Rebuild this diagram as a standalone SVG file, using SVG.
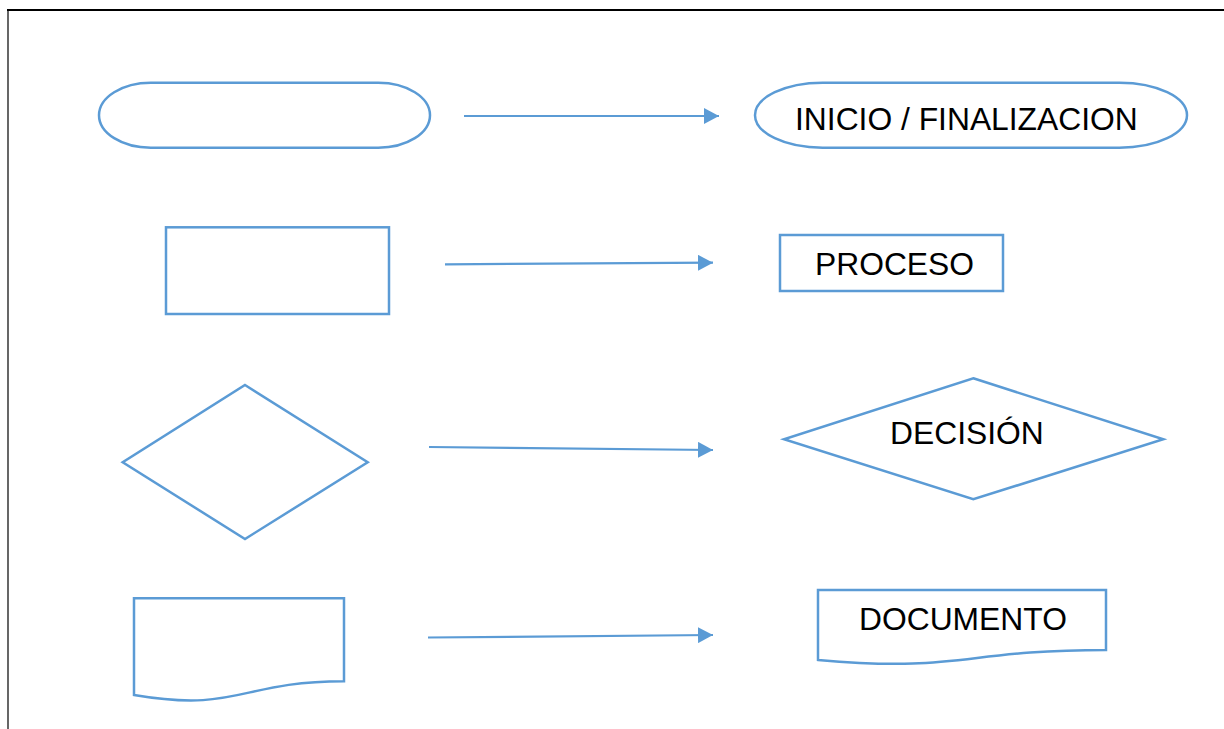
<svg xmlns="http://www.w3.org/2000/svg" width="1224" height="729" viewBox="0 0 1224 729">
  <defs>
    <style>
      .shape { fill: #ffffff; stroke: #5B9BD5; stroke-width: 2.5; stroke-linejoin: miter; }
      .conn { fill: none; stroke: #5B9BD5; stroke-width: 2.2; }
      .label { font-family: "Liberation Sans", Arial, sans-serif; font-size: 31.8px; fill: #000000; }
    </style>
    <marker id="arrow" viewBox="0 0 15 16" refX="15" refY="8" markerWidth="15" markerHeight="16" markerUnits="userSpaceOnUse" orient="auto">
      <path d="M0,0 L15,8 L0,16 Z" fill="#5B9BD5"/>
    </marker>
  </defs>

  <rect width="1224" height="729" fill="#ffffff"/>

  <!-- page frame -->
  <g id="frame" fill="none" stroke="#000000">
    <line x1="7" y1="10" x2="1224" y2="10" stroke-width="2"/>
    <line x1="8" y1="10" x2="8" y2="729" stroke-width="1.2"/>
  </g>

  <!-- left column: plain symbols -->
  <g id="terminator-symbol">
    <path class="shape" d="M150.8,82.7 H378.2 A51.8,32.5 0 0 1 378.2,147.7 H150.8 A51.8,32.5 0 0 1 150.8,82.7 Z"/>
  </g>
  <g id="process-symbol">
    <rect class="shape" x="166" y="227.3" width="223" height="86.7"/>
  </g>
  <g id="decision-symbol">
    <polygon class="shape" points="245,385 367.7,462.3 245,539 122.7,462.3"/>
  </g>
  <g id="document-symbol">
    <path class="shape" d="M134,598.3 H344 V681.3 C239,681.3 239,712.9 134,695 Z"/>
  </g>

  <!-- right column: labelled symbols -->
  <g id="terminator">
    <path class="shape" d="M822.6,82.7 H1119.4 A67.6,32.5 0 0 1 1119.4,147.7 H822.6 A67.6,32.5 0 0 1 822.6,82.7 Z"/>
    <text class="label" x="795" y="130">INICIO / FINALIZACION</text>
  </g>
  <g id="process">
    <rect class="shape" x="780" y="235" width="223" height="56"/>
    <text class="label" x="815" y="275">PROCESO</text>
  </g>
  <g id="decision">
    <polygon class="shape" points="973.3,378.3 1163.3,439.3 973.3,499.3 784,439.3"/>
    <text class="label" x="890" y="443.5">DECISIÓN</text>
  </g>
  <g id="document">
    <path class="shape" d="M818,590 H1106 V650 C962,650 962,672.8 818,659.9 Z"/>
    <text class="label" x="859" y="629.5">DOCUMENTO</text>
  </g>

  <!-- connectors -->
  <g id="connectors">
    <line class="conn" x1="464" y1="116" x2="719" y2="116" marker-end="url(#arrow)"/>
    <line class="conn" x1="445" y1="264.3" x2="713" y2="262.7" marker-end="url(#arrow)"/>
    <line class="conn" x1="429" y1="447" x2="713" y2="450" marker-end="url(#arrow)"/>
    <line class="conn" x1="428" y1="637.5" x2="713" y2="635" marker-end="url(#arrow)"/>
  </g>
</svg>
